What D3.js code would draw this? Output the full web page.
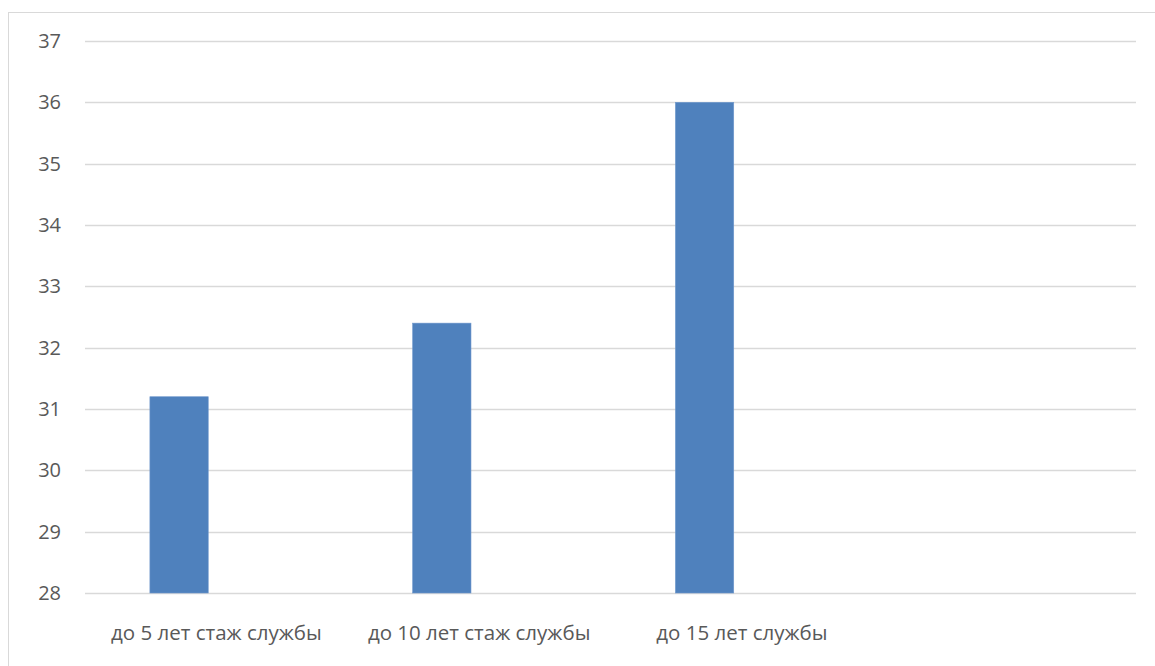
<!DOCTYPE html>
<html>
<head>
<meta charset="utf-8">
<script src="https://cdn.jsdelivr.net/npm/d3@7"></script>
<style>
  body { margin: 0; background: #fff; }
  text { font-family: "Open Sans", "Noto Sans", sans-serif; fill: #595959; }
</style>
</head>
<body>
<svg id="chart" width="1155" height="666"></svg>
<script>
const categories = ['до 5 лет стаж службы', 'до 10 лет стаж службы', 'до 15 лет службы', '']
const values = [31.2, 32.4, 36, null]
const yTicks = [28, 29, 30, 31, 32, 33, 34, 35, 36, 37]

const svg = d3.select('#chart')
const margin = {top: 41, right: 19, bottom: 73, left: 85}
const width = 1155 - margin.left - margin.right
const height = 666 - margin.top - margin.bottom

// chart border (runs off the right and bottom edges)
svg.append('rect')
    .attr('x', 8.5).attr('y', 12.5)
    .attr('width', 1160).attr('height', 670)
    .attr('fill', 'none')
    .attr('stroke', '#d9d9d9')
    .attr('stroke-width', 1)

const g = svg.append('g').attr('transform', `translate(${margin.left}, ${margin.top})`)

const x = d3.scaleBand().domain(d3.range(categories.length)).range([0, width])
const y = d3.scaleLinear().domain([28, 37]).range([height, 0])

// gridlines
g.append('g').selectAll('line').data(yTicks).enter().append('line')
    .attr('x1', 0).attr('x2', width)
    .attr('y1', d => Math.round(y(d)) + 0.5).attr('y2', d => Math.round(y(d)) + 0.5)
    .attr('stroke', '#d9d9d9').attr('stroke-width', 1.3)

// y labels
g.append('g').selectAll('text').data(yTicks).enter().append('text')
    .attr('x', -24)
    .attr('y', d => y(d))
    .attr('dy', '0.35em')
    .attr('text-anchor', 'end')
    .attr('font-size', 20)
    .text(d => d)

// bars
const bw = x.bandwidth()
g.append('g').selectAll('rect').data(values.map((v, i) => ({v, i})).filter(d => d.v != null))
    .enter().append('rect')
    .attr('x', d => x(d.i) + bw * 0.247)
    .attr('width', bw * 0.222)
    .attr('y', d => y(d.v))
    .attr('height', d => height - y(d.v))
    .attr('fill', '#4f81bd')
    .attr('stroke', '#6f98cc')
    .attr('stroke-width', 0.6)

// x labels
g.append('g').selectAll('text').data(categories).enter().append('text')
    .attr('x', (d, i) => x(i) + bw / 2)
    .attr('y', height + 47)
    .attr('text-anchor', 'middle')
    .attr('font-size', 20.5)
    .text(d => d)
</script>
</body>
</html>
